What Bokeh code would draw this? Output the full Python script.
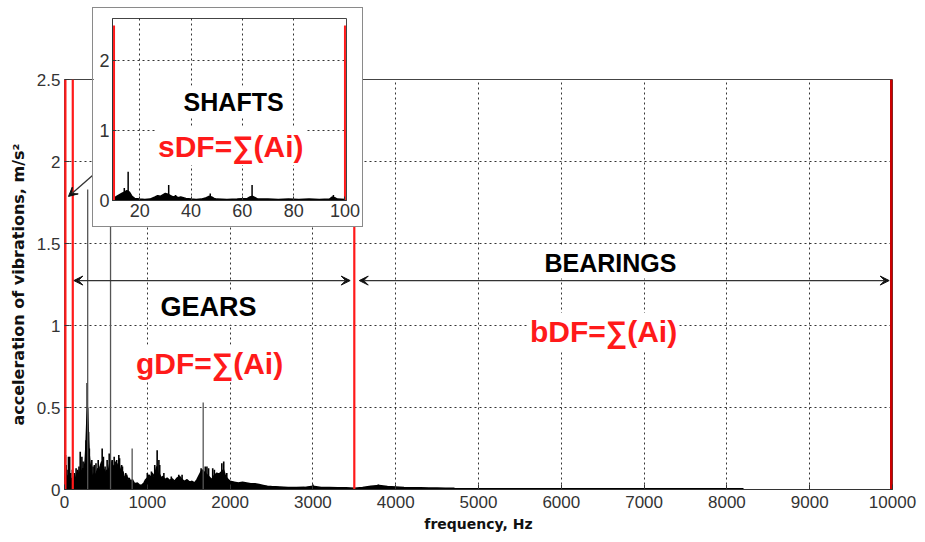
from bokeh.plotting import figure
from bokeh.layouts import column
from bokeh.models import FixedTicker, Label, Arrow, VeeHead, Range1d
from bokeh.embed import file_html
from bokeh.resources import INLINE

# ---------------- data ----------------
x_ticks = [0, 1000, 2000, 3000, 4000, 5000, 6000, 7000, 8000, 9000, 10000]
y_ticks = [0, 0.5, 1, 1.5, 2, 2.5]

# broadband spectrum envelope, Hz / m/s^2
spec_freq = [0, 10, 20, 30, 40, 50, 60, 70, 80, 90, 100, 115, 130, 145, 160, 175, 190,
             205, 220, 235, 250, 260, 270, 280, 290, 300, 315, 330, 345, 360, 375, 390,
             405, 420, 435, 450, 465, 480, 495, 510, 525, 540, 555, 570, 585, 600, 615,
             630, 645, 660, 675, 690, 705, 720, 735, 750, 765, 780, 800, 820, 840, 860,
             880, 900, 920, 940, 960, 980, 1000, 1020, 1040, 1060, 1080, 1100, 1115,
             1130, 1150, 1170, 1190, 1210, 1240, 1270, 1300, 1330, 1360, 1390, 1420,
             1450, 1480, 1510, 1540, 1570, 1600, 1620, 1640, 1660, 1680, 1700, 1720,
             1740, 1760, 1780, 1800, 1820, 1840, 1860, 1880, 1900, 1920, 1940, 1960,
             1980, 2000, 2050, 2100, 2150, 2200, 2250, 2300, 2350, 2400, 2450, 2500,
             2600, 2700, 2800, 2900, 3000, 3100, 3200, 3300, 3400, 3500, 3600, 3700,
             3800, 3900, 4000, 4100, 4200, 4300, 4400, 4500, 4600, 4700, 4720, 8200]
spec_amp = [0.06, 0.10, 0.07, 0.09, 0.05, 0.08, 0.10, 0.06, 0.05, 0.07, 0.05, 0.08,
            0.06, 0.09, 0.11, 0.08, 0.12, 0.10, 0.13, 0.11, 0.18, 0.28, 0.42, 0.50,
            0.30, 0.20, 0.13, 0.09, 0.08, 0.10, 0.08, 0.11, 0.13, 0.10, 0.15, 0.17,
            0.13, 0.12, 0.09, 0.12, 0.10, 0.14, 0.18, 0.16, 0.13, 0.15, 0.12, 0.16,
            0.14, 0.15, 0.12, 0.10, 0.11, 0.08, 0.07, 0.09, 0.06, 0.07, 0.05, 0.06,
            0.04, 0.035, 0.04, 0.03, 0.025, 0.03, 0.04, 0.06, 0.07, 0.09, 0.07, 0.10,
            0.08, 0.11, 0.14, 0.10, 0.09, 0.07, 0.08, 0.06, 0.07, 0.055, 0.065, 0.05,
            0.07, 0.08, 0.06, 0.05, 0.06, 0.045, 0.05, 0.04, 0.06, 0.08, 0.10, 0.12,
            0.11, 0.10, 0.09, 0.08, 0.07, 0.06, 0.08, 0.09, 0.10, 0.09, 0.10, 0.11,
            0.12, 0.09, 0.07, 0.06, 0.05, 0.045, 0.04, 0.045, 0.04, 0.035, 0.035,
            0.03, 0.025, 0.02, 0.018, 0.015, 0.012, 0.012, 0.013, 0.02, 0.012, 0.012,
            0.01, 0.01, 0.008, 0.012, 0.02, 0.025, 0.018, 0.015, 0.012, 0.01, 0.01,
            0.009, 0.009, 0.008, 0.008, 0.004, 0.004]

# discrete spectral lines
spike_freq = [12, 20, 30, 48, 62, 75, 95, 120, 140, 160, 175, 190, 210, 225, 240, 260,
              274, 290, 300, 330, 345, 360, 380, 407, 430, 455, 470, 490, 515, 540,
              576, 600, 620, 630, 656, 665, 690, 700, 740, 1000, 1050, 1090, 1119,
              1140, 1150, 1200, 1290, 1380, 1420, 1650, 1700, 1720, 1740, 1790, 1810,
              1860, 1900, 1923, 1960, 3000, 3790]
spike_amp = [0.21, 0.15, 0.12, 0.20, 0.20, 0.10, 0.12, 0.10, 0.13, 0.12, 0.14, 0.23,
             0.20, 0.17, 0.13, 0.30, 0.65, 0.35, 0.25, 0.18, 0.14, 0.15, 0.16, 0.18,
             0.14, 0.25, 0.20, 0.14, 0.18, 0.22, 0.18, 0.20, 0.17, 0.18, 0.21, 0.19,
             0.15, 0.14, 0.10, 0.10, 0.11, 0.15, 0.24, 0.18, 0.15, 0.10, 0.08, 0.09,
             0.09, 0.13, 0.14, 0.14, 0.13, 0.13, 0.12, 0.10, 0.16, 0.17, 0.10, 0.03,
             0.03]
thin_freq = [280, 556, 817, 1675]
thin_amp = [1.83, 2.10, 0.25, 0.53]

band_edges = [0, 100, 3500]
range_end = [10000]

# inset (shaft range 10-100 Hz)
ins_x_ticks = [20, 40, 60, 80, 100]
ins_y_ticks = [0, 1, 2]
ins_freq = [10, 11, 12, 13, 14, 15, 16, 17, 18, 20, 22, 24, 26, 27, 28, 29, 30, 31,
            32, 33, 34, 35, 36, 38, 40, 42, 44, 46, 47, 48, 49, 50, 54, 58, 62, 63,
            64, 65, 66, 70, 74, 78, 82, 86, 90, 94, 95, 96, 97, 100]
ins_amp = [0.03, 0.06, 0.08, 0.10, 0.12, 0.14, 0.12, 0.06, 0.03, 0.02, 0.015, 0.02,
           0.05, 0.07, 0.06, 0.08, 0.10, 0.09, 0.07, 0.05, 0.06, 0.04, 0.05, 0.03,
           0.02, 0.015, 0.02, 0.04, 0.06, 0.05, 0.03, 0.02, 0.015, 0.02, 0.03, 0.05,
           0.06, 0.04, 0.02, 0.02, 0.015, 0.02, 0.015, 0.02, 0.015, 0.02, 0.05, 0.04,
           0.02, 0.015]
ins_spike_freq = [14, 15.5, 31.3, 34, 47.5, 63.8, 95.5]
ins_spike_amp = [0.18, 0.41, 0.22, 0.08, 0.10, 0.22, 0.08]
ins_edges = [10, 100]

# annotation anchors (data units)
gears_arrow = [113, 3450, 1.274]
bearings_arrow = [3560, 9960, 1.274]
pointer_arrow = [338, 1.915, 48, 1.787]
gears_text = [1739, 1.11]
gdf_text = [1752, 0.77]
bearings_text = [6594, 1.384]
bdf_text = [6510, 0.963]
shafts_text = [56.6, 1.41]
sdf_text = [55.5, 0.77]

FONT = "Liberation Sans"
RED = "#ff1a1a"

# ---------------- main figure ----------------
p = figure(width=925, height=542, x_range=Range1d(0, 10000), y_range=Range1d(0, 2.5),
           output_backend="svg", toolbar_location=None,
           min_border_left=64, min_border_right=33, min_border_top=79, min_border_bottom=53)
p.frame_align = False
p.background_fill_color = "white"
p.border_fill_color = "white"
p.outline_line_color = "#444444"
p.outline_line_width = 1

p.xaxis.ticker = FixedTicker(ticks=x_ticks)
p.yaxis.ticker = FixedTicker(ticks=y_ticks)
p.xaxis.major_label_overrides = {t: str(t) for t in x_ticks}
for ax in (p.xaxis, p.yaxis):
    ax.major_label_text_font = FONT
    ax.major_label_text_font_size = "17px"
    ax.major_label_text_color = "#333333"
    ax.major_tick_in = 5
    ax.major_tick_out = 0
    ax.minor_tick_line_color = None
    ax.major_tick_line_color = "#333333"
    ax.axis_line_color = "#333333"
    ax.axis_label_text_font = "DejaVu Sans"
    ax.axis_label_text_font_style = "bold"
    ax.axis_label_text_color = "#111111"
p.yaxis.axis_line_color = None
p.xaxis.axis_label_text_font_size = "14px"
p.yaxis.axis_label_text_font_size = "16px"
p.xaxis.axis_label = "frequency, Hz"
p.yaxis.axis_label = "acceleration of vibrations, m/s²"
p.xaxis.major_label_standoff = 6
p.yaxis.major_label_standoff = 4
p.xaxis.axis_label_standoff = 5
p.yaxis.axis_label_standoff = 6

for g in (p.xgrid, p.ygrid):
    g.grid_line_color = "#111111"
    g.grid_line_dash = "2 3"
    g.grid_line_width = 1
    g.grid_line_alpha = 0.85
p.xgrid.ticker = FixedTicker(ticks=x_ticks)
p.ygrid.ticker = FixedTicker(ticks=y_ticks)

p.varea(x=spec_freq, y1=0, y2=spec_amp, fill_color="black")
p.line(x=spec_freq, y=spec_amp, line_color="black", line_width=1.5)
p.segment(x0=spike_freq, y0=0, x1=spike_freq, y1=spike_amp, line_color="black", line_width=1.6)
p.segment(x0=thin_freq, y0=0, x1=thin_freq, y1=thin_amp, line_color="#555555", line_width=1.3)

p.segment(x0=band_edges, y0=0, x1=band_edges, y1=2.5, line_color=RED, line_width=2.2)
p.segment(x0=band_edges[:1], y0=0, x1=band_edges[:1], y1=2.5, line_color=RED, line_width=4)
p.segment(x0=range_end, y0=0, x1=range_end, y1=2.5, line_color="#cc0000", line_width=5)

def arrow(x0, y0, x1, y1, both=True):
    head = lambda: VeeHead(size=9, fill_color="#111111", line_color="#111111", line_width=1)
    return Arrow(start=head() if both else None, end=head(),
                 x_start=x0, y_start=y0, x_end=x1, y_end=y1,
                 line_color="#333333", line_width=1.3)

p.add_layout(arrow(gears_arrow[0], gears_arrow[2], gears_arrow[1], gears_arrow[2]))
p.add_layout(arrow(bearings_arrow[0], bearings_arrow[2], bearings_arrow[1], bearings_arrow[2]))
p.add_layout(arrow(pointer_arrow[0], pointer_arrow[1], pointer_arrow[2], pointer_arrow[3], both=False))

def label(pos, text, size, color):
    return Label(x=pos[0], y=pos[1], text=text, text_align="center", text_baseline="middle",
                 text_font=FONT, text_font_style="bold", text_font_size=size,
                 text_color=color, background_fill_color="white",
                 padding=2)

p.add_layout(label(gears_text, "GEARS", "27px", "black"))
p.add_layout(label(gdf_text, "gDF=∑(Ai)", "30px", RED))
p.add_layout(label(bearings_text, "BEARINGS", "25px", "black"))
p.add_layout(label(bdf_text, "bDF=∑(Ai)", "30px", RED))

# ---------------- inset ----------------
ins = figure(width=271, height=220, x_range=Range1d(9.4, 100.6), y_range=Range1d(0, 2.6),
             output_backend="svg", toolbar_location=None,
             min_border_left=19, min_border_right=18, min_border_top=10, min_border_bottom=28)
ins.frame_align = False
ins.background_fill_color = "white"
ins.border_fill_color = "white"
ins.outline_line_color = "#444444"
ins.xaxis.ticker = FixedTicker(ticks=ins_x_ticks)
ins.yaxis.ticker = FixedTicker(ticks=ins_y_ticks)
for ax in (ins.xaxis, ins.yaxis):
    ax.major_label_text_font = FONT
    ax.major_label_text_font_size = "18px"
    ax.major_label_text_color = "#333333"
    ax.major_tick_in = 4
    ax.major_tick_out = 0
    ax.minor_tick_line_color = None
    ax.major_tick_line_color = "#333333"
    ax.axis_line_color = "#333333"
ins.xaxis.major_label_standoff = 3
ins.yaxis.major_label_standoff = 3
for g in (ins.xgrid, ins.ygrid):
    g.grid_line_color = "#111111"
    g.grid_line_dash = "2 3"
    g.grid_line_alpha = 0.85
ins.xgrid.ticker = FixedTicker(ticks=[20, 40, 60, 80])
ins.ygrid.ticker = FixedTicker(ticks=[1, 2])

ins.varea(x=ins_freq, y1=0, y2=ins_amp, fill_color="black")
ins.line(x=ins_freq, y=ins_amp, line_color="black", line_width=1.5)
ins.segment(x0=ins_spike_freq, y0=0, x1=ins_spike_freq, y1=ins_spike_amp,
            line_color="black", line_width=1.5)
ins.segment(x0=ins_edges, y0=0, x1=ins_edges, y1=2.5, line_color=RED, line_width=2)
ins.add_layout(label(shafts_text, "SHAFTS", "25px", "black"))
ins.add_layout(label(sdf_text, "sDF=∑(Ai)", "30px", RED))

ins.margin = (-535, 0, 0, 92)
ins.styles = {"border": "1px solid #8a8a8a", "z-index": "10"}

layout = column(p, ins, spacing=0)
layout.margin = (0, 0, 0, 0)

open("out.html", "w").write(file_html(layout, INLINE))
